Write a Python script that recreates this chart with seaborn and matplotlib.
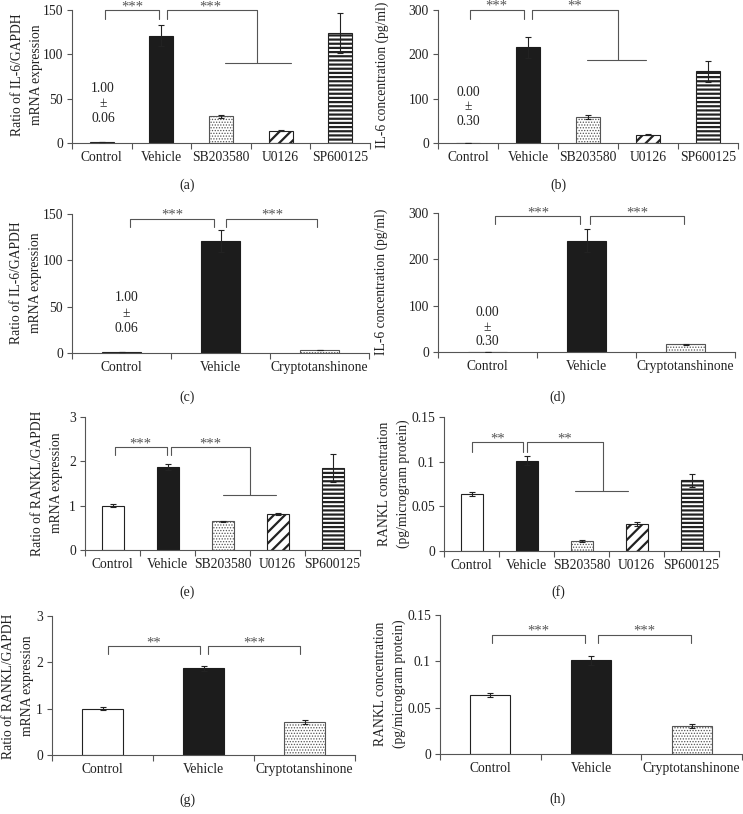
import numpy as np
import pandas as pd
import matplotlib
matplotlib.use("Agg")
import matplotlib.pyplot as plt
from matplotlib.ticker import FuncFormatter
import seaborn as sns

sns.set_style("ticks")
plt.rcParams['font.family'] = ['Liberation Serif', 'DejaVu Serif']
plt.rcParams['hatch.linewidth'] = 1.4

# ---- data ----
groups5 = ['Control', 'Vehicle', 'SB203580', 'U0126', 'SP600125']
groups3 = ['Control', 'Vehicle', 'Cryptotanshinone']

a_mean = [1.0, 121, 30, 14, 124]
a_err = [0.06, 12, 1.5, 0.8, 23]
b_mean = [0.0, 216, 59, 19, 162]
b_err = [0.3, 24, 5, 1.5, 24]
c_mean = [1.0, 121, 3.2]
c_err = [0.06, 12, 0.5]
d_mean = [0.0, 240, 16.5]
d_err = [0.3, 25, 1.0]
e_mean = [1.0, 1.87, 0.65, 0.81, 1.85]
e_err = [0.03, 0.06, 0.01, 0.02, 0.32]
f_mean = [0.064, 0.101, 0.011, 0.030, 0.079]
f_err = [0.002, 0.005, 0.001, 0.002, 0.007]
g_mean = [1.0, 1.87, 0.71]
g_err = [0.03, 0.06, 0.05]
h_mean = [0.064, 0.101, 0.030]
h_err = [0.002, 0.005, 0.002]

il6_mrna = 'Ratio of IL-6/GAPDH\nmRNA expression'
il6_conc = 'IL-6 concentration (pg/ml)'
rankl_mrna = 'Ratio of RANKL/GAPDH\nmRNA expression'
rankl_conc = 'RANKL concentration\n(pg/microgram protein)'

# face colour, hatch, edge colour, hatch width per treatment
styles = {
    'Control': ('white', '', '#222222', 1.0),
    'Vehicle': ('#1c1c1c', '', '#1c1c1c', 1.0),
    'SB203580': ('white', '......', '#555555', 0.6),
    'U0126': ('white', '///', '#222222', 1.6),
    'SP600125': ('white', '----', '#222222', 1.6),
    'Cryptotanshinone': ('white', '......', '#555555', 0.6),
}

TXT = '#222222'
LINE = '#555555'
FS = 9.8
W, H = 743, 814
fig = plt.figure(figsize=(W / 100, H / 100), dpi=100)


def px_axes(x0, y0, x1, y1):
    return fig.add_axes([x0 / W, 1 - y1 / H, (x1 - x0) / W, (y1 - y0) / H])


def draw_panel(ax, groups, means, errs, ymax, ystep, brackets, fan, stars, note=None):
    df = pd.DataFrame({'group': groups, 'value': means})
    sns.barplot(data=df, x='group', y='value', ax=ax, color='white', width=0.4,
                errorbar=None, saturation=1, linewidth=0.8, edgecolor=TXT)
    for patch, g in zip(ax.patches, groups):
        fc, hatch, ec, hlw = styles[g]
        patch.set_facecolor(fc)
        patch.set_edgecolor(ec)
        patch.set_hatch(hatch)
        if hasattr(patch, 'set_hatch_linewidth'):
            patch.set_hatch_linewidth(hlw)
    ax.errorbar(np.arange(len(groups)), means, yerr=errs, fmt='none', ecolor=TXT,
                elinewidth=0.8, capsize=2.5, capthick=0.8, zorder=4)

    n = len(groups)
    ax.set_xlim(-0.5, n - 0.5)
    ax.set_ylim(0, ymax)
    ax.set_yticks(np.arange(0, ymax + ystep / 2, ystep))
    ax.yaxis.set_major_formatter(FuncFormatter(lambda v, p: '{:g}'.format(round(v, 4))))
    ax.set_xticks(np.arange(n + 1) - 0.5, minor=True)
    ax.tick_params(axis='x', which='major', length=0, pad=6, labelsize=FS, labelcolor=TXT)
    ax.tick_params(axis='x', which='minor', length=4, width=0.8, color=LINE, direction='out')
    ax.tick_params(axis='y', length=3.5, width=0.8, color=LINE, pad=3, labelsize=FS,
                   labelcolor=TXT, direction='out')
    ax.set_xlabel('')
    ax.set_ylabel('')
    sns.despine(ax=ax)
    for s in ['left', 'bottom']:
        ax.spines[s].set_color(LINE)
        ax.spines[s].set_linewidth(0.8)

    # significance brackets
    for x1, x2, ytop, yl, yr in brackets:
        ax.plot([x1, x1, x2, x2], [yl, ytop, ytop, yr], color=LINE, lw=0.8, clip_on=False)
    if fan is not None:
        ax.plot([fan[0], fan[1]], [fan[2], fan[2]], color=LINE, lw=0.8, clip_on=False)
    for (xs, lab), br in zip(stars, brackets):
        ax.text(xs, br[2], lab, ha='center', va='baseline', fontsize=10.5, color='#555555')
    if note is not None:
        xn, ys, labs = note
        for y, lab in zip(ys, labs):
            ax.text(xn, y, lab, ha='center', va='center', fontsize=FS, color=TXT)


def ylab(x, y, text):
    fig.text(x / W, 1 - y / H, text, rotation=90, ha='center', va='center',
             fontsize=FS, color=TXT, linespacing=1.55, multialignment='center')


def letter(x, y, text):
    fig.text(x / W, 1 - y / H, text, ha='center', va='center', fontsize=10, color=TXT)


# (a)
ax = px_axes(72, 10, 370, 143)
draw_panel(ax, groups5, a_mean, a_err, 150, 50,
           [(0.05, 0.96, 149.7, 139.5, 139.5), (1.09, 2.6, 149.7, 139.5, 90)],
           (2.07, 3.17, 90), [(0.51, '***'), (1.82, '***')],
           (0.02, [61, 45, 28], ['1.00', '±', '0.06']))
ylab(27, 75, il6_mrna)
letter(187, 185, '(a)')

# (b)
ax = px_axes(438, 10, 738, 143)
draw_panel(ax, groups5, b_mean, b_err, 300, 100,
           [(0.03, 0.94, 300, 279, 279), (1.07, 2.5, 300, 279, 187)],
           (1.99, 2.97, 187), [(0.48, '***'), (1.78, '**')],
           (0.0, [114, 82, 49], ['0.00', '±', '0.30']))
ylab(382, 75, il6_conc)
letter(558, 185, '(b)')

# (c)
ax = px_axes(72, 214, 369, 353)
draw_panel(ax, groups3, c_mean, c_err, 150, 50,
           [(0.09, 0.93, 145, 136, 136), (1.06, 1.97, 145, 136, 136)],
           None, [(0.51, '***'), (1.52, '***')],
           (0.05, [60, 42.6, 26], ['1.00', '±', '0.06']))
ylab(26, 283, il6_mrna)
letter(187, 397, '(c)')

# (d)
ax = px_axes(438, 213, 735, 352)
draw_panel(ax, groups3, d_mean, d_err, 300, 100,
           [(0.08, 0.93, 293, 277, 277), (1.04, 1.98, 293, 277, 277)],
           None, [(0.51, '***'), (1.51, '***')],
           (0.0, [85, 52, 22], ['0.00', '±', '0.30']))
ylab(381, 282, il6_conc)
letter(558, 397, '(d)')

# (e)
ax = px_axes(85, 417, 360, 550)
draw_panel(ax, groups5, e_mean, e_err, 3, 1,
           [(0.045, 0.985, 2.32, 2.15, 2.15), (1.06, 2.5, 2.32, 2.15, 1.24)],
           (2.0, 2.97, 1.24), [(0.5, '***'), (1.77, '***')])
ylab(47, 483, rankl_mrna)
letter(187, 592, '(e)')

# (f)
ax = px_axes(444, 417, 719, 551)
draw_panel(ax, groups5, f_mean, f_err, 0.15, 0.05,
           [(0.0, 0.94, 0.1217, 0.111, 0.111), (1.0, 2.39, 0.1217, 0.111, 0.0677)],
           (1.88, 2.85, 0.0677), [(0.47, '**'), (1.7, '**')])
ylab(394, 484, rankl_conc)
letter(558, 592, '(f)')

# (g)
ax = px_axes(52, 616, 355, 755)
draw_panel(ax, groups3, g_mean, g_err, 3, 1,
           [(0.05, 0.965, 2.35, 2.17, 2.17), (1.04, 1.96, 2.35, 2.17, 2.17)],
           None, [(0.51, '**'), (1.5, '***')])
ylab(18, 686, rankl_mrna)
letter(187, 800, '(g)')

# (h)
ax = px_axes(440, 615, 742, 754)
draw_panel(ax, groups3, h_mean, h_err, 0.15, 0.05,
           [(0.02, 0.94, 0.1287, 0.12, 0.12), (1.07, 1.99, 0.1287, 0.12, 0.12)],
           None, [(0.48, '***'), (1.53, '***')])
ylab(390, 684, rankl_conc)
letter(557, 799, '(h)')

fig.savefig('out.png', dpi=100)
